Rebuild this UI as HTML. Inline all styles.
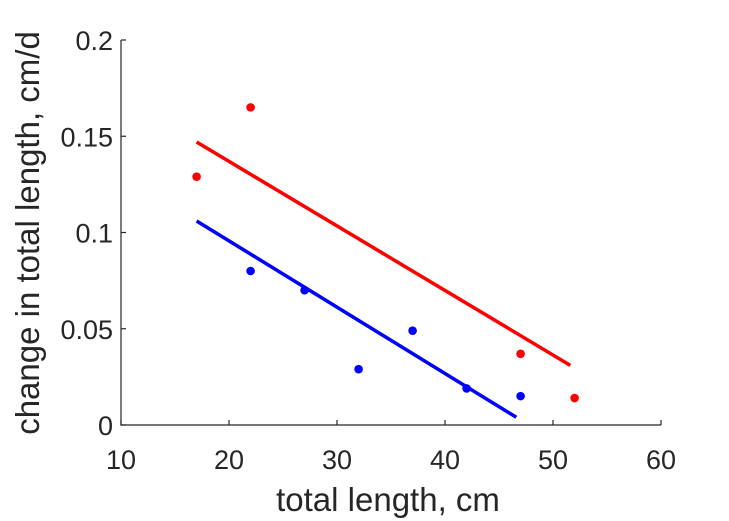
<!DOCTYPE html>
<html><head><meta charset="utf-8"><style>
html,body{margin:0;padding:0;background:#fff;width:729px;height:521px;overflow:hidden}
svg text{font-family:"Liberation Sans",sans-serif;fill:#262626}
</style></head><body>
<svg id="chart" width="729" height="521" xmlns="http://www.w3.org/2000/svg"></svg>
<script>
const xTicks=[10,20,30,40,50,60];
const yTicks=[0,0.05,0.1,0.15,0.2];
const yTickLabels=["0","0.05","0.1","0.15","0.2"];
const redX=[17,22,47,52];
const redY=[0.129,0.165,0.037,0.014];
const blueX=[22,27,32,37,42,47];
const blueY=[0.080,0.070,0.029,0.049,0.019,0.015];
const redLineX=[17,51.6];
const redLineY=[0.147,0.031];
const blueLineX=[17,46.6];
const blueLineY=[0.106,0.004];

const L=121,R=661,T=40,B=425;
const sx=v=>L+(v-10)/50*(R-L);
const sy=v=>B-v/0.2*(B-T);
const svg=document.getElementById('chart');
const NS='http://www.w3.org/2000/svg';
function mk(tag,attrs){const e=document.createElementNS(NS,tag);for(const k in attrs)e.setAttribute(k,attrs[k]);svg.appendChild(e);return e;}

let ax=mk('path',{d:`M${L},${T}V${B}H${R}`,stroke:'#262626','stroke-width':1.2,fill:'none'});


xTicks.forEach(t=>{
  const x=sx(t);
  const tk=mk('line',{x1:x,x2:x,y1:B,y2:B-5,stroke:'#262626','stroke-width':1.2});
  
  
  const tx=mk('text',{x:x,y:B+44,'text-anchor':'middle','font-size':27});
  tx.textContent=t;
  
  
});
yTicks.forEach((t,i)=>{
  const y=sy(t);
  const tk=mk('line',{x1:L,x2:L+5,y1:y,y2:y,stroke:'#262626','stroke-width':1.2});
  
  
  const tx=mk('text',{x:L-8,y:y+10,'text-anchor':'end','font-size':27});
  tx.textContent=yTickLabels[i];
  
  
});
let xl=mk('text',{x:388,y:511,'text-anchor':'middle','font-size':33});
xl.textContent='total length, cm';


let yl=mk('text',{x:0,y:0,'text-anchor':'middle','font-size':33,transform:'translate(39,233) rotate(-90)'});
yl.textContent='change in total length, cm/d';



let rl=mk('line',{x1:sx(redLineX[0]),y1:sy(redLineY[0]),x2:sx(redLineX[1]),y2:sy(redLineY[1]),stroke:'#ff0000','stroke-width':3.5});


let bl=mk('line',{x1:sx(blueLineX[0]),y1:sy(blueLineY[0]),x2:sx(blueLineX[1]),y2:sy(blueLineY[1]),stroke:'#0000ff','stroke-width':3.5});


redX.forEach((x,i)=>{
  const c=mk('circle',{cx:sx(x),cy:sy(redY[i]),r:4.3,fill:'#ff0000'});
  
  
});
blueX.forEach((x,i)=>{
  const c=mk('circle',{cx:sx(x),cy:sy(blueY[i]),r:4.3,fill:'#0000ff'});
  
  
});
</script>
</body></html>
